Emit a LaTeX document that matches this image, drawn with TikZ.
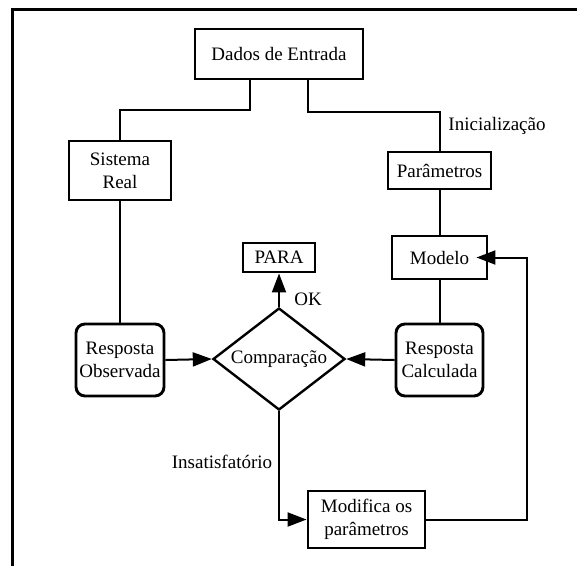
\documentclass[tikz,border=0pt]{standalone}
\usepackage{fontspec}
\setmainfont{Liberation Serif}
\usetikzlibrary{arrows.meta,shapes.geometric}
\begin{document}
\begin{tikzpicture}[x=1pt,y=-1pt,
  every node/.style={font=\fontsize{19}{23}\selectfont},
  box/.style={draw,line width=2.9pt,inner sep=0pt,align=center},
  rbox/.style={box,rounded corners=9pt},
  conn/.style={line width=2pt},
  arr/.style={conn,-{Triangle[length=19pt,width=14pt]}},
  lbl/.style={inner sep=0pt}]
\useasboundingbox (0,0) rectangle (577,565);
\draw[line width=3pt] (12,566) -- (12,9) -- (578,9);
% nodes
\node[box,minimum width=168pt,minimum height=50pt] (dados) at (279,54) {Dados de Entrada};
\node[box,minimum width=102pt,minimum height=59pt] (sis) at (120,170.5) {Sistema\\Real};
\node[box,minimum width=103pt,minimum height=37pt] (par) at (439.5,170.5) {Parâmetros};
\node[box,minimum width=95pt,minimum height=43pt] (modelo) at (439.5,257.5) {Modelo};
\node[box,minimum width=72pt,minimum height=29pt] (para) at (279,257.5) {PARA};
\node[rbox,minimum width=88pt,minimum height=72pt] (obs) at (120,360) {Resposta\\Observada};
\node[rbox,minimum width=87pt,minimum height=72pt] (calc) at (439.5,360) {Resposta\\Calculada};
\node[draw,diamond,line width=2.4pt,aspect=1.3,inner sep=0pt,minimum width=132pt,minimum height=102pt] (cmp) at (279,359) {Comparação};
\node[box,minimum width=117pt,minimum height=57pt] (mod) at (366.5,519.5) {Modifica os\\parâmetros};
% labels
\node[lbl] (ini) at (497,126) {Inicialização};
\node[lbl] (ok) at (308,299) {OK};
\node[lbl] (ins) at (222,462) {Insatisfatório};
% junctions
\coordinate (d1) at (250,79);
\coordinate (j1) at (120,110);
\coordinate (d2) at (308,79);
\coordinate (j2) at (439.5,112);
\coordinate (j3) at (527,400);
% connectors
\draw[conn] (d1) |- (j1) -- (sis.north);
\draw[conn] (d2) |- (j2) -- (par.north);
\draw[conn] (sis.south) -- (obs.north);
\draw[conn] (par.south) -- (modelo.north);
\draw[conn] (modelo.south) -- (calc.north);
\draw[arr] (obs.east) -- (cmp.west);
\draw[arr] (calc.west) -- (cmp.east);
\draw[arr] (cmp.north) -- (para.south);
\draw[arr] (cmp.south) |- (mod.west);
\draw[arr,shorten >=-12pt] (mod.east) -| (j3) |- (modelo.east);
\end{tikzpicture}
\end{document}
